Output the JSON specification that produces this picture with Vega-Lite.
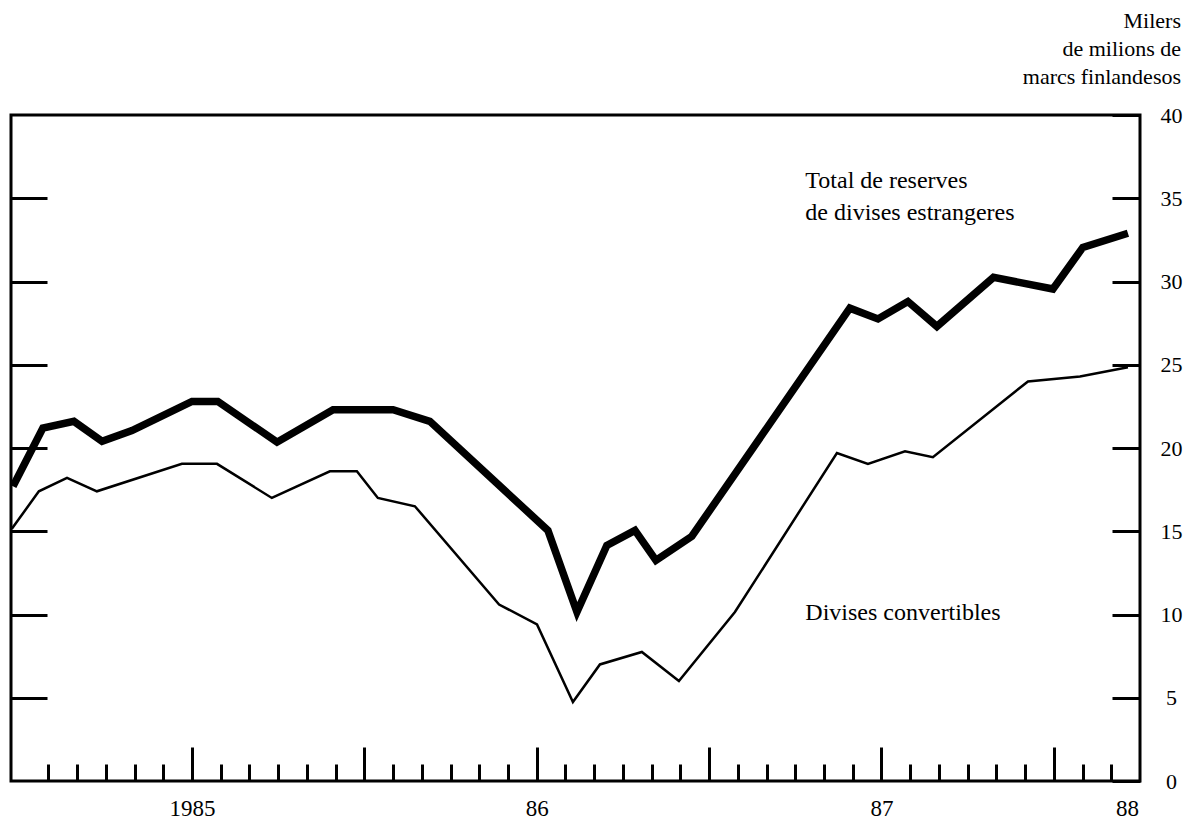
{
  "$schema": "https://vega.github.io/schema/vega-lite/v6.json",
  "width": 1129,
  "height": 666,
  "autosize": {"type": "none"},
  "padding": {"left": 11, "top": 115, "right": 57, "bottom": 56},
  "background": "white",
  "config": {
    "view": {"stroke": "black", "strokeWidth": 3},
    "font": "Liberation Serif",
    "axis": {"domain": false, "grid": false, "labelFont": "Liberation Serif", "labelColor": "black", "tickColor": "black"}
  },
  "title": {
    "text": ["Milers", "de milions de", "marcs finlandesos"],
    "anchor": "end",
    "align": "right",
    "frame": "group",
    "dx": 41,
    "offset": 15,
    "font": "Liberation Serif",
    "fontSize": 22,
    "fontWeight": "normal",
    "lineHeight": 28,
    "color": "black"
  },
  "datasets": {
    "series": [
      {"t": -6.23, "v": 17.7, "serie": "Total"},
      {"t": -5.19, "v": 21.2, "serie": "Total"},
      {"t": -4.11, "v": 21.6, "serie": "Total"},
      {"t": -3.13, "v": 20.4, "serie": "Total"},
      {"t": -2.09, "v": 21.05, "serie": "Total"},
      {"t": 0.0, "v": 22.8, "serie": "Total"},
      {"t": 0.9, "v": 22.8, "serie": "Total"},
      {"t": 2.96, "v": 20.35, "serie": "Total"},
      {"t": 4.91, "v": 22.3, "serie": "Total"},
      {"t": 7.0, "v": 22.3, "serie": "Total"},
      {"t": 8.28, "v": 21.6, "serie": "Total"},
      {"t": 12.39, "v": 15.05, "serie": "Total"},
      {"t": 13.4, "v": 10.15, "serie": "Total"},
      {"t": 14.44, "v": 14.15, "serie": "Total"},
      {"t": 15.42, "v": 15.05, "serie": "Total"},
      {"t": 16.15, "v": 13.25, "serie": "Total"},
      {"t": 17.4, "v": 14.7, "serie": "Total"},
      {"t": 22.9, "v": 28.4, "serie": "Total"},
      {"t": 23.88, "v": 27.75, "serie": "Total"},
      {"t": 24.92, "v": 28.8, "serie": "Total"},
      {"t": 25.93, "v": 27.3, "serie": "Total"},
      {"t": 27.9, "v": 30.25, "serie": "Total"},
      {"t": 29.97, "v": 29.55, "serie": "Total"},
      {"t": 31.01, "v": 32.05, "serie": "Total"},
      {"t": 32.58, "v": 32.9, "serie": "Total"},
      {"t": -6.27, "v": 15.15, "serie": "Convertibles"},
      {"t": -5.33, "v": 17.4, "serie": "Convertibles"},
      {"t": -4.35, "v": 18.2, "serie": "Convertibles"},
      {"t": -3.31, "v": 17.4, "serie": "Convertibles"},
      {"t": -0.35, "v": 19.05, "serie": "Convertibles"},
      {"t": 0.87, "v": 19.05, "serie": "Convertibles"},
      {"t": 2.78, "v": 17.0, "serie": "Convertibles"},
      {"t": 4.8, "v": 18.6, "serie": "Convertibles"},
      {"t": 5.74, "v": 18.6, "serie": "Convertibles"},
      {"t": 6.47, "v": 17.0, "serie": "Convertibles"},
      {"t": 7.76, "v": 16.5, "serie": "Convertibles"},
      {"t": 10.69, "v": 10.6, "serie": "Convertibles"},
      {"t": 12.01, "v": 9.4, "serie": "Convertibles"},
      {"t": 13.26, "v": 4.75, "serie": "Convertibles"},
      {"t": 14.2, "v": 7.0, "serie": "Convertibles"},
      {"t": 15.66, "v": 7.75, "serie": "Convertibles"},
      {"t": 16.95, "v": 6.0, "serie": "Convertibles"},
      {"t": 18.9, "v": 10.15, "serie": "Convertibles"},
      {"t": 22.45, "v": 19.7, "serie": "Convertibles"},
      {"t": 23.53, "v": 19.05, "serie": "Convertibles"},
      {"t": 24.82, "v": 19.8, "serie": "Convertibles"},
      {"t": 25.79, "v": 19.45, "serie": "Convertibles"},
      {"t": 29.1, "v": 24.0, "serie": "Convertibles"},
      {"t": 30.91, "v": 24.3, "serie": "Convertibles"},
      {"t": 32.58, "v": 24.85, "serie": "Convertibles"}
    ],
    "notes": [
      {"t": 21.35, "v": 36.05, "label": "Total de reserves"},
      {"t": 21.35, "v": 34.1, "label": "de divises estrangeres"},
      {"t": 21.35, "v": 10.1, "label": "Divises convertibles"}
    ]
  },
  "layer": [
    {
      "data": {"name": "series"},
      "mark": {"type": "line", "color": "black", "strokeJoin": "miter", "clip": true},
      "encoding": {
        "x": {
          "field": "t",
          "type": "quantitative",
          "scale": {"domain": [-6.3, 33], "nice": false, "zero": false},
          "axis": {
            "orient": "bottom",
            "title": null,
            "values": [-5, -4, -3, -2, -1, 0, 1, 2, 3, 4, 5, 6, 7, 8, 9, 10, 11, 12, 13, 14, 15, 16, 17, 18, 19, 20, 21, 22, 23, 24, 25, 26, 27, 28, 29, 30, 31, 32, 32.55],
            "tickSize": {"condition": {"test": "datum.value % 6 === 0 || datum.value === 32.55", "value": -34}, "value": -17},
            "tickOpacity": {"condition": {"test": "datum.value === 32.55", "value": 0}, "value": 1},
            "tickWidth": 3,
            "labelExpr": "datum.value === 0 ? '1985' : datum.value === 12 ? '86' : datum.value === 24 ? '87' : datum.value === 32.55 ? '88' : ''",
            "labelFontSize": 23,
            "labelPadding": 50,
            "labelBaseline": "top",
            "labelFlush": false,
            "labelOverlap": false
          }
        },
        "y": {
          "field": "v",
          "type": "quantitative",
          "scale": {"domain": [0, 40], "nice": false},
          "axis": {
            "orient": "right",
            "title": null,
            "values": [0, 5, 10, 15, 20, 25, 30, 35, 40],
            "tickSize": -28,
            "tickWidth": 3,
            "labelFontSize": 22,
            "labelAlign": "center",
            "labelBaseline": "middle",
            "labelPadding": 59,
            "labelFlush": false,
            "labelOverlap": false
          }
        },
        "strokeWidth": {
          "field": "serie",
          "type": "nominal",
          "scale": {"domain": ["Total", "Convertibles"], "range": [7.5, 2.5]},
          "legend": null
        }
      }
    },
    {
      "data": {"name": "notes"},
      "mark": {"type": "text", "align": "left", "baseline": "middle", "font": "Liberation Serif", "fontSize": 24, "color": "black"},
      "encoding": {
        "x": {"field": "t", "type": "quantitative", "axis": null},
        "y": {
          "field": "v",
          "type": "quantitative",
          "axis": {
            "orient": "left",
            "title": null,
            "values": [5, 10, 15, 20, 25, 30, 35],
            "tickSize": -36,
            "tickWidth": 3,
            "labels": false
          }
        },
        "text": {"field": "label", "type": "nominal"}
      }
    }
  ],
  "resolve": {"axis": {"y": "independent", "x": "independent"}}
}
